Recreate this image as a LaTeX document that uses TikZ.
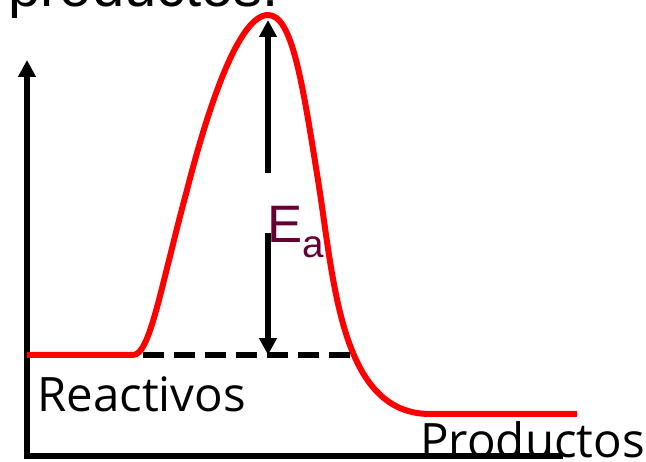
\documentclass[tikz,border=0pt]{standalone}
\usepackage{fontspec}
\setmainfont{Liberation Sans}
\newfontfamily\handfont{Open Sans}
\usepackage{xcolor}
\usetikzlibrary{arrows.meta, positioning, calc}

\definecolor{curvered}{RGB}{255,0,0}
\definecolor{eapurple}{RGB}{102,0,51}

\begin{document}
\begin{tikzpicture}[x=0.02cm, y=-0.02cm]

% Uniform line width and arrow tips
\def\lw{0.12cm}
\tikzset{
  thickline/.style={line width=\lw},
  bigtip/.tip={Triangle[length=0.34cm, width=0.34cm]},
  energy/.style={line width=\lw, color=curvered, line join=round},
  handlabel/.style={font=\handfont\fontsize{27}{27}\selectfont, inner sep=0pt, anchor=base west},
}

\useasboundingbox (0,0) rectangle (646,462);
\clip (0,0) rectangle (646,462);

% Title line, only its lower edge shows
\node[font=\fontsize{33}{33}\selectfont, inner sep=0pt, anchor=base west] (title) at (8,7) {productos:};

% Axes
\coordinate (ytip) at (27,60);
\coordinate (origin) at (27,456);
\coordinate (xend) at (563,456);
\draw[thickline, {bigtip}-] (ytip) -- (origin) -- (xend);

% Reaction curve
\draw[energy] (27,355) -- (133,355)
  .. controls (150,355) and (160,290) .. (187,190)
  .. controls (210,100) and (240,15) .. (268,15)
  .. controls (292,15) and (302,80) .. (318,180)
  .. controls (334,280) and (340,414) .. (430,414)
  -- (577,414);

% Level of the reactants
\coordinate (dashstart) at (143,355);
\coordinate (dashend) at (355,355);
\draw[thickline, dash pattern=on 0.42cm off 0.2cm] (dashstart) -- (dashend);

% Activation energy
\coordinate (peak) at (268,20);
\coordinate (upfoot) at (268,173);
\coordinate (downtop) at (268,233);
\coordinate (base) at (268,355);
\draw[thickline, -{bigtip}] (upfoot) -- (peak);
\draw[thickline, -{bigtip}] (downtop) -- (base);

\node[inner sep=0pt, anchor=base west, text=eapurple] (ea) at (267,243)
  {\fontsize{30}{30}\selectfont E\fontsize{22}{22}\selectfont\raisebox{-0.38em}{a}};

% Labels
\node[handlabel] (reactivos) at (37,412) {Reactivos};
\node[handlabel] (productos) at (420,458) {Productos};

\end{tikzpicture}
\end{document}
